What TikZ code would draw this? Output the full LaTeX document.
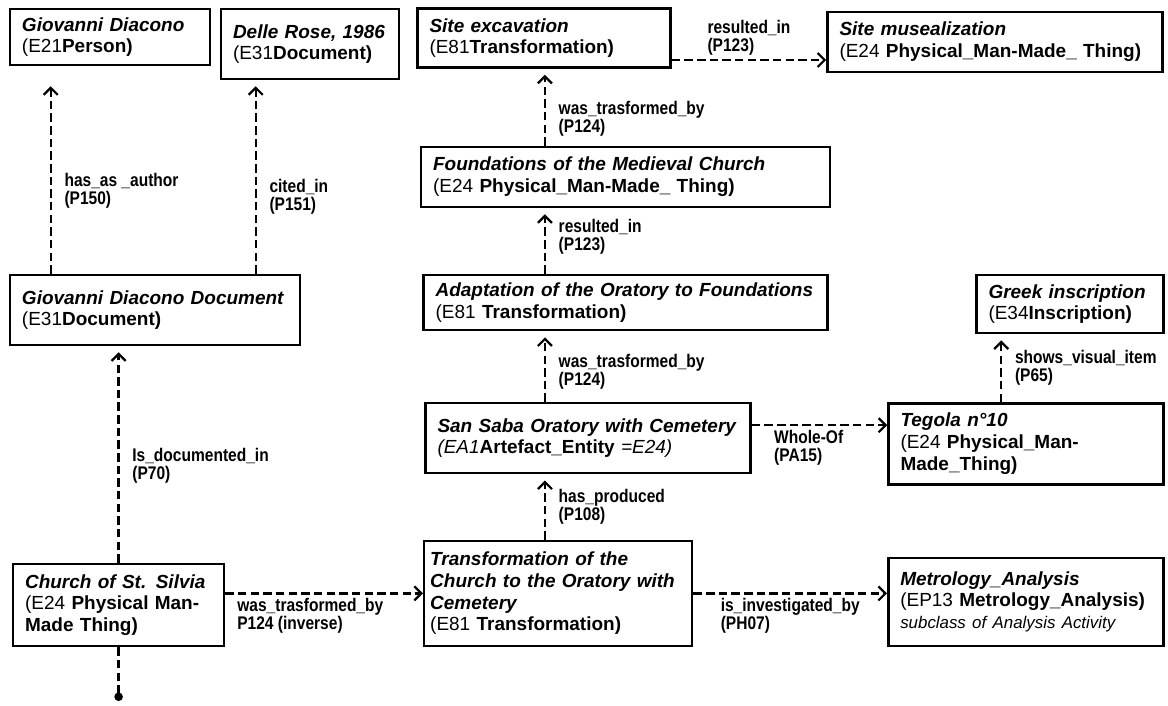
\documentclass[tikz,border=0pt]{standalone}
\usepackage{fontspec}
\setmainfont{Liberation Sans}
\newfontfamily\lblfont[FakeStretch=0.85]{Liberation Sans}
\usetikzlibrary{arrows.meta}

\newcommand{\ttl}[1]{\textbf{\textit{#1}}}
\newcommand{\cls}[1]{\textbf{#1}}

\tikzset{
  ent/.style 2 args={draw, line width=1.8pt, rectangle, align=left, inner xsep=0.3cm, inner ysep=1pt,
    text width=#1cm, minimum height=#2cm, font=\fontsize{13.5}{15.5}\selectfont},
  rel/.style={->, line width=1.6pt, dash pattern=on 6pt off 3pt},
  lbl/.style={font=\lblfont\bfseries\fontsize{13}{12.8}\selectfont, align=left, inner xsep=9pt, inner ysep=2.5pt},
}

\begin{document}
\begin{tikzpicture}[auto, >={Straight Barb[length=5pt,width=10pt]}]
    \useasboundingbox (-2.75,0.925) rectangle (26.45,-16.725);
    \node (gdp) [ent={4.4}{1.4}] {\ttl{Giovanni Diacono}\\(E21\cls{Person)}};
    \node (dr) [ent={3.85}{1.75}, node distance=5cm, right of=gdp, yshift=-0.175cm] {\ttl{Delle Rose, 1986}\\(E31\cls{Document)}};
    \node (site) [ent={5.725}{1.475}, node distance=5.85cm, right of=dr, yshift=0.15cm] {\ttl{Site excavation}\\(E81\cls{Transformation)}};
    \node (museal) [ent={7.775}{1.5}, node distance=11.275cm, right of=site, yshift=-0.1cm] {\ttl{Site musealization}\\(E24 \cls{Physical\_Man-Made\_ Thing)}};
    \node (found) [ent={9.625}{1.5}, node distance=3.475cm, below of=site, xshift=2.04cm] {\ttl{Foundations of the Medieval Church}\\(E24 \cls{Physical\_Man-Made\_ Thing)}};
    \node (adapt) [ent={9.5}{1.375}, node distance=3.14cm, below of=found] {\ttl{Adaptation of the Oratory to Foundations}\\(E81 \cls{Transformation)}};
    \node (greek) [ent={4.075}{1.45}, node distance=11.11cm, right of=adapt, yshift=-0.04cm] {\ttl{Greek inscription}\\(E34\cls{Inscription)}};
    \node (saba) [ent={7.525}{1.75}, node distance=3.39cm, below of=adapt, xshift=-0.94cm] {\ttl{San Saba Oratory with Cemetery}\\\textit{(EA1}\cls{Artefact\_Entity} \textit{=E24)}};
    \node (tegola) [ent={6.275}{2.025}, node distance=10.95cm, right of=saba, yshift=-0.14cm] {\ttl{Tegola n°10}\\(E24 \cls{Physical\_Man-}\\\cls{Made\_Thing)}};
    \node (gdd) [ent={6.65}{1.75}, node distance=6.825cm, below of=gdp, xshift=1.125cm] {\ttl{Giovanni Diacono Document}\\(E31\cls{Document)}};
    \node (church) [ent={4.675}{2.05}, node distance=7.375cm, below of=gdd, xshift=-0.91cm] {\ttl{Church of St. Silvia}\\(E24 \cls{Physical Man-}\\\cls{Made Thing)}};
    \node (transf) [ent={6.4}{2.625}, inner xsep=0.15cm, node distance=10.99cm, right of=church, yshift=0.29cm] {\ttl{Transformation of the}\\\ttl{Church to the Oratory with}\\\ttl{Cemetery}\\(E81 \cls{Transformation)}};
    \node (metro) [ent={6.275}{2.2}, node distance=11.69cm, right of=transf, yshift=-0.21cm] {\ttl{Metrology\_Analysis}\\(EP13 \cls{Metrology\_Analysis)}\\{\fontsize{12}{14}\selectfont\textit{subclass of Analysis Activity}}};
    \node (tail) [coordinate, node distance=2.4cm, below of=church] {};

    % where the vertical links run
    \coordinate (ca) at ([xshift=1.05cm]gdd.north west);
    \coordinate (cb) at ([xshift=0.9cm]dr.south west);
    \coordinate (col) at ([xshift=3.05cm]transf.north west);
    \coordinate (cg) at ([xshift=0.65cm]greek.south west);
    \coordinate (sr) at ([yshift=-0.55cm]site.east);
    \coordinate (sb) at ([yshift=0.325cm]saba.east);

    \draw[rel, shorten >=0.5cm] (ca) to node[lbl, swap, pos=0.4] {has\_as \_author\\(P150)} (ca |- gdp.south);
    \draw[rel, shorten >=0.15cm] (cb |- gdd.north) to node[lbl, swap, pos=0.4] {cited\_in\\(P151)} (cb);
    \draw[rel, shorten >=0.15cm] (church.north) to node[lbl, swap, pos=0.45] {Is\_documented\_in\\(P70)} (church.north |- gdd.south);
    \draw[rel] (church.east |- transf.west) to node[lbl, swap, pos=0.43] {was\_trasformed\_by\\P124 (inverse)} (transf.west);
    \draw[rel] (transf.east) to node[lbl, swap] {is\_investigated\_by\\(PH07)} (transf.east -| metro.west);
    \draw[rel, shorten >=0.15cm] (col) to node[lbl, swap] {has\_produced\\(P108)} (col |- saba.south);
    \draw[rel, shorten >=0.15cm] (col |- saba.north) to node[lbl, swap, pos=0.43] {was\_trasformed\_by\\(P124)} (col |- adapt.south);
    \draw[rel, shorten >=0.15cm] (col |- adapt.north) to node[lbl, swap, pos=0.57] {resulted\_in\\(P123)} (col |- found.south);
    \draw[rel, shorten >=0.15cm] (col |- found.north) to node[lbl, swap, pos=0.35] {was\_trasformed\_by\\(P124)} (col |- site.south);
    \draw[rel] (sr) to node[lbl] {resulted\_in\\(P123)} (sr -| museal.west);
    \draw[rel] (sb) to node[lbl, swap, pos=0.42] {Whole-Of\\(PA15)} (sb -| tegola.west);
    \draw[rel, shorten >=0.15cm] (cg |- tegola.north) to node[lbl, swap] {shows\_visual\_item\\(P65)} (cg);
    \draw[rel, -{Circle[length=6pt]}] (church) -- (tail);
  \end{tikzpicture}
\end{document}
